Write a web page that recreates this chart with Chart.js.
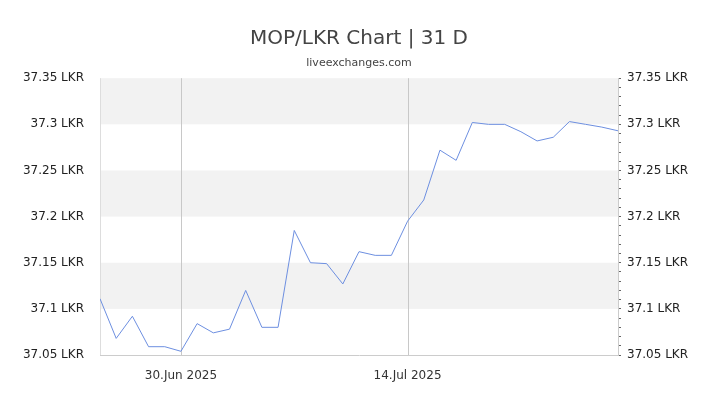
<!DOCTYPE html>
<html><head><meta charset="utf-8">
<script src="https://cdn.jsdelivr.net/npm/chart.js@4"></script>
<style>body{margin:0;background:#fff}#w{width:720px;height:405px}</style>
</head><body><div id="w"><canvas id="c"></canvas></div>
<script>
const dates = ["25.Jun","26.Jun","27.Jun","28.Jun","29.Jun","30.Jun","01.Jul","02.Jul","03.Jul","04.Jul","05.Jul","06.Jul","07.Jul","08.Jul","09.Jul","10.Jul","11.Jul","12.Jul","13.Jul","14.Jul","15.Jul","16.Jul","17.Jul","18.Jul","19.Jul","20.Jul","21.Jul","22.Jul","23.Jul","24.Jul","25.Jul","26.Jul","27.Jul"];
const rates = [37.111,37.068,37.092,37.059,37.059,37.054,37.084,37.074,37.078,37.120,37.080,37.080,37.185,37.150,37.149,37.127,37.162,37.158,37.158,37.195,37.218,37.272,37.261,37.302,37.300,37.300,37.292,37.282,37.286,37.303,37.300,37.297,37.293];
const xTickIdx = [5,19];
const xTickLabels = {5:"30.Jun 2025",19:"14.Jul 2025"};
const bands = [[37.30,37.35],[37.20,37.25],[37.10,37.15]];
const fmt = v => (Math.round(v*100)/100)+" LKR";
const pts = rates.map((v,i)=>({x:i,y:v}));
const bandPlugin = {id:'bands',beforeDatasetsDraw(ch){
  const {ctx,chartArea:a,scales:{y,x}}=ch;ctx.save();ctx.fillStyle='#f2f2f2';
  bands.forEach(b=>{const t=y.getPixelForValue(b[1]),B=y.getPixelForValue(b[0]);ctx.fillRect(a.left,t,a.right-a.left,B-t);});
  ctx.strokeStyle='#c8c8c8';ctx.lineWidth=1;
  xTickIdx.forEach(i=>{const px=Math.round(x.getPixelForValue(i))+0.5;ctx.beginPath();ctx.moveTo(px,a.top);ctx.lineTo(px,a.bottom);ctx.stroke();});
  ctx.strokeStyle='#ddd';ctx.beginPath();ctx.moveTo(a.left+0.5,a.top);ctx.lineTo(a.left+0.5,a.bottom);ctx.stroke();
  ctx.restore();}};
const fitW = s=>{s.width=100;};
new Chart(document.getElementById('c'),{type:'line',
 data:{datasets:[{data:pts,borderColor:'#6d8fe0',borderWidth:1,pointRadius:0,tension:0,yAxisID:'y'}]},
 options:{responsive:true,maintainAspectRatio:false,animation:false,
  layout:{padding:{left:0,right:2,top:0,bottom:10}},
  plugins:{legend:{display:false},tooltip:{enabled:false},
   title:{display:true,text:'MOP/LKR Chart | 31 D',color:'#444',font:{family:'DejaVu Sans',size:20,weight:'normal'},padding:{top:27,bottom:6}},
   subtitle:{display:true,text:'liveexchanges.com',color:'#444',font:{family:'DejaVu Sans',size:11},padding:{bottom:8}}},
  scales:{
   x:{type:'linear',min:0,max:32,afterFit(s){s.height=40;},
    afterBuildTicks(s){s.ticks=xTickIdx.map(v=>({value:v}));},
    ticks:{autoSkip:false,maxRotation:0,callback:v=>xTickLabels[v]||'',color:'#333',font:{family:'DejaVu Sans',size:12},padding:6},
    grid:{display:false},border:{color:'#ccc'}},
   y:{position:'left',min:37.05,max:37.35,afterFit:fitW,
    ticks:{stepSize:0.05,autoSkip:false,callback:fmt,color:'#222',font:{family:'DejaVu Sans',size:12},padding:8},
    grid:{display:false},border:{display:false}},
   y2:{position:'right',min:37.05,max:37.35,afterFit:fitW,
    ticks:{stepSize:0.01,autoSkip:false,callback:v=>{const r=Math.round(v*100);return r%5===0?fmt(v):'';},color:'#222',font:{family:'DejaVu Sans',size:12},padding:6},
    grid:{display:true,drawOnChartArea:false,tickLength:3,color:'#666'},border:{color:'#ccc'}}
  }},
 plugins:[bandPlugin]});
</script></body></html>
